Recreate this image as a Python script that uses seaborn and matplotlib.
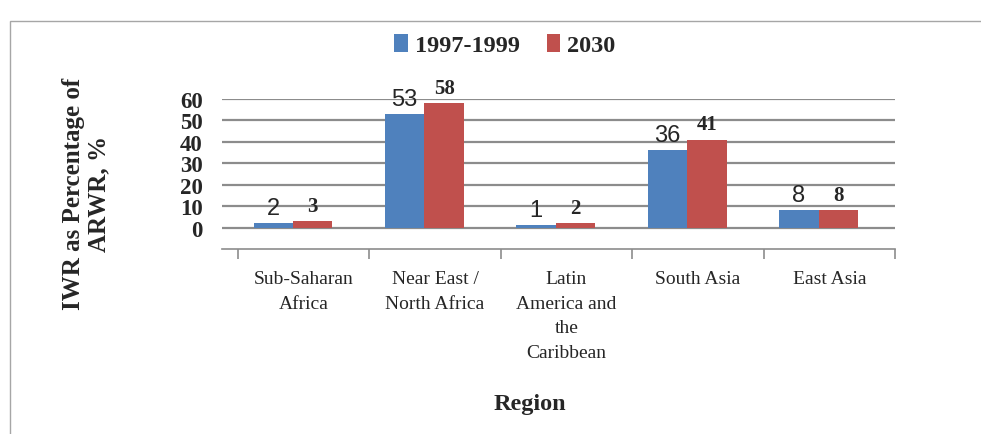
import matplotlib
matplotlib.use("Agg")
import matplotlib.pyplot as plt
import seaborn as sns
import pandas as pd
from matplotlib.patches import Rectangle

regions = ["Sub-Saharan\nAfrica", "Near East /\nNorth Africa",
           "Latin\nAmerica and\nthe\nCaribbean", "South Asia", "East Asia"]
series = ["1997-1999", "2030"]
values_1997 = [2, 53, 1, 36, 8]
values_2030 = [3, 58, 2, 41, 8]
yticks = [0, 10, 20, 30, 40, 50, 60]

df = pd.DataFrame({
    "Region": regions * 2,
    "Period": [series[0]] * len(regions) + [series[1]] * len(regions),
    "Value": values_1997 + values_2030,
})

sns.set_theme(style="white")
plt.rcParams["font.family"] = ["Liberation Serif", "DejaVu Serif"]

fig = plt.figure(figsize=(9.81, 4.35), dpi=100)
ax = fig.add_axes([222 / 981, 1 - 250 / 435, (895 - 222) / 981, 150 / 435])

palette = {"1997-1999": "#4F81BD", "2030": "#C0504D"}
sns.barplot(data=df, x="Region", y="Value", hue="Period", palette=palette,
            width=0.6, gap=0, ax=ax, edgecolor="none", saturation=1,
            legend=True)

# shift bars slightly to mimic 3D perspective offset
for p in ax.patches:
    p.set_x(p.get_x() - 0.08)

ax.set_xlim(-0.62, 4.5)
ax.set_ylim(-10, 60)
ax.set_yticks(yticks)
ax.set_yticklabels([str(t) for t in yticks], fontsize=16.5, fontweight="bold")
ax.yaxis.grid(True, color="#8c8c8c", linewidth=1.6)
ax.set_axisbelow(True)
ax.tick_params(axis="y", length=0, pad=14)
ax.set_xlabel("")
ax.set_ylabel("")

ax.set_xticks(range(len(regions)))
ax.set_xticklabels(regions, fontsize=14, linespacing=1.6)
ax.set_xticks([i - 0.5 for i in range(len(regions) + 1)], minor=True)
ax.tick_params(axis="x", which="major", length=0, pad=15)
ax.tick_params(axis="x", which="minor", length=7, width=1.2, color="#8c8c8c",
               direction="out", bottom=True)

for s in ["top", "right", "left"]:
    ax.spines[s].set_visible(False)
ax.spines["bottom"].set_color("#8c8c8c")
ax.spines["bottom"].set_linewidth(1.2)

# data labels
containers = ax.containers
ax.bar_label(containers[0], labels=[str(v) for v in values_1997], padding=3,
             fontsize=17, family=["Liberation Sans", "DejaVu Sans"])
ax.bar_label(containers[1], labels=[str(v) for v in values_2030], padding=4,
             fontsize=15, fontweight="bold")

handles, labels = ax.get_legend_handles_labels()
ax.get_legend().remove()
fig.legend(handles, labels, loc="center", bbox_to_anchor=(505 / 981, 1 - 46 / 435),
           ncol=2, frameon=False, handlelength=0.55, handleheight=0.8,
           handletextpad=0.3, columnspacing=1.1,
           prop={"size": 17.5, "weight": "bold", "family": "Liberation Serif"})

fig.text(86 / 981, 1 - 194 / 435, "IWR as Percentage of\nARWR, %", rotation=90,
         ha="center", va="center", fontsize=18, fontweight="bold", linespacing=1.15)
fig.text(530 / 981, 1 - 405 / 435, "Region", ha="center", va="center",
         fontsize=17.5, fontweight="bold")

fig.patches.append(Rectangle((10 / 981, -0.01), 1.0, 1 - 22 / 435 + 0.01,
                             transform=fig.transFigure, fill=False,
                             edgecolor="#a6a6a6", linewidth=1.0))

fig.savefig("out.png", dpi=100)
